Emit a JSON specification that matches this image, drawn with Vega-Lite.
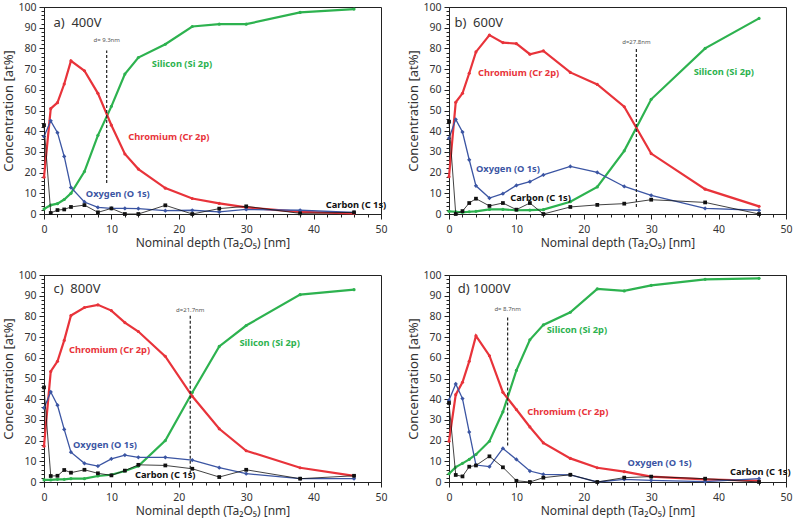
{
  "$schema": "https://vega.github.io/schema/vega-lite/v6.json",
  "background": "white",
  "padding": {"left": 2, "top": 1, "right": 0, "bottom": 4},
  "datasets": {"all": [
    {"kind":"s","panel":"a","d":0,"Si":2.4,"Cr":17.8,"O":37.4,"C":42.9},
    {"kind":"s","panel":"a","d":1,"Si":4.3,"Cr":50.9,"O":45,"C":0.5},
    {"kind":"s","panel":"a","d":2,"Si":5,"Cr":53.8,"O":39.3,"C":1.9},
    {"kind":"s","panel":"a","d":3,"Si":7,"Cr":62.8,"O":27.8,"C":2.2},
    {"kind":"s","panel":"a","d":4,"Si":10,"Cr":74,"O":12.8,"C":3.4},
    {"kind":"s","panel":"a","d":6,"Si":20.5,"Cr":69.2,"O":5.8,"C":4.3},
    {"kind":"s","panel":"a","d":8,"Si":38,"Cr":58.3,"O":3.2,"C":0.8},
    {"kind":"s","panel":"a","d":10,"Si":52,"Cr":42.9,"O":2.7,"C":2.7},
    {"kind":"s","panel":"a","d":12,"Si":67.6,"Cr":29,"O":2.7,"C":0},
    {"kind":"s","panel":"a","d":14,"Si":75.6,"Cr":21.7,"O":2.6,"C":0},
    {"kind":"s","panel":"a","d":18,"Si":82,"Cr":12.5,"O":1.6,"C":4.2},
    {"kind":"s","panel":"a","d":22,"Si":90.6,"Cr":7.5,"O":1.8,"C":0},
    {"kind":"s","panel":"a","d":26,"Si":91.7,"Cr":5.1,"O":1,"C":2.6},
    {"kind":"s","panel":"a","d":30,"Si":91.7,"Cr":3.2,"O":2.2,"C":3.7},
    {"kind":"s","panel":"a","d":38,"Si":97.4,"Cr":1,"O":1.8,"C":0.3},
    {"kind":"s","panel":"a","d":46,"Si":99,"Cr":0.3,"O":0.8,"C":0.8},

    {"kind":"s","panel":"b","d":0,"Si":1.3,"Cr":18,"O":36.6,"C":44.6},
    {"kind":"s","panel":"b","d":1,"Si":1.1,"Cr":54,"O":45.7,"C":0},
    {"kind":"s","panel":"b","d":2,"Si":0.8,"Cr":58.3,"O":39.6,"C":1.4},
    {"kind":"s","panel":"b","d":3,"Si":1.1,"Cr":68,"O":26.2,"C":5.3},
    {"kind":"s","panel":"b","d":4,"Si":1.3,"Cr":78.3,"O":13.6,"C":7.4},
    {"kind":"s","panel":"b","d":6,"Si":2.2,"Cr":86.4,"O":7.7,"C":3.9},
    {"kind":"s","panel":"b","d":8,"Si":2.2,"Cr":82.8,"O":9.8,"C":5.3},
    {"kind":"s","panel":"b","d":10,"Si":1.8,"Cr":82.3,"O":13.8,"C":2.1},
    {"kind":"s","panel":"b","d":12,"Si":1.9,"Cr":77.2,"O":15.6,"C":5.3},
    {"kind":"s","panel":"b","d":14,"Si":2.1,"Cr":78.8,"O":18.9,"C":0},
    {"kind":"s","panel":"b","d":18,"Si":5.9,"Cr":68.4,"O":23,"C":3.4},
    {"kind":"s","panel":"b","d":22,"Si":13.1,"Cr":62.6,"O":20.1,"C":4.4},
    {"kind":"s","panel":"b","d":26,"Si":30.5,"Cr":51.8,"O":13.3,"C":5},
    {"kind":"s","panel":"b","d":30,"Si":55.4,"Cr":29.2,"O":9,"C":6.9},
    {"kind":"s","panel":"b","d":38,"Si":80,"Cr":12,"O":2.7,"C":5.6},
    {"kind":"s","panel":"b","d":46,"Si":94.5,"Cr":3.7,"O":1.8,"C":0},

    {"kind":"s","panel":"c","d":0,"Si":1,"Cr":17.3,"O":35.8,"C":45.7},
    {"kind":"s","panel":"c","d":1,"Si":1,"Cr":53.4,"O":43.5,"C":2.9},
    {"kind":"s","panel":"c","d":2,"Si":1.3,"Cr":58.3,"O":37.1,"C":3},
    {"kind":"s","panel":"c","d":3,"Si":1.3,"Cr":68.4,"O":25.4,"C":5.8},
    {"kind":"s","panel":"c","d":4,"Si":1.6,"Cr":80.4,"O":14.4,"C":4.5},
    {"kind":"s","panel":"c","d":6,"Si":1.6,"Cr":84.3,"O":9,"C":5.9},
    {"kind":"s","panel":"c","d":8,"Si":2.9,"Cr":85.6,"O":7.7,"C":4.2},
    {"kind":"s","panel":"c","d":10,"Si":3.5,"Cr":82.8,"O":11.2,"C":3.2},
    {"kind":"s","panel":"c","d":12,"Si":5.3,"Cr":77,"O":13,"C":5.5},
    {"kind":"s","panel":"c","d":14,"Si":7.7,"Cr":72.7,"O":11.9,"C":8.3},
    {"kind":"s","panel":"c","d":18,"Si":20,"Cr":60.7,"O":11.9,"C":8},
    {"kind":"s","panel":"c","d":22,"Si":43.2,"Cr":41.4,"O":10.6,"C":6.4},
    {"kind":"s","panel":"c","d":26,"Si":65.5,"Cr":25.7,"O":6.9,"C":2.4},
    {"kind":"s","panel":"c","d":30,"Si":75.6,"Cr":15.1,"O":4,"C":5.9},
    {"kind":"s","panel":"c","d":38,"Si":90.5,"Cr":6.9,"O":1.6,"C":1.6},
    {"kind":"s","panel":"c","d":46,"Si":92.9,"Cr":3,"O":1.6,"C":3},

    {"kind":"s","panel":"d","d":0,"Si":4,"Cr":19.7,"O":39.5,"C":38.2},
    {"kind":"s","panel":"d","d":1,"Si":7.2,"Cr":42.2,"O":47.4,"C":3.4},
    {"kind":"s","panel":"d","d":2,"Si":9,"Cr":48.2,"O":40.3,"C":2.7},
    {"kind":"s","panel":"d","d":3,"Si":10.9,"Cr":58.3,"O":24.1,"C":7.4},
    {"kind":"s","panel":"d","d":4,"Si":13.3,"Cr":70.6,"O":8.2,"C":8},
    {"kind":"s","panel":"d","d":6,"Si":19.7,"Cr":61,"O":7.4,"C":12.4},
    {"kind":"s","panel":"d","d":8,"Si":33.9,"Cr":43.3,"O":16.2,"C":7.1},
    {"kind":"s","panel":"d","d":10,"Si":53.9,"Cr":35,"O":10.9,"C":0.6},
    {"kind":"s","panel":"d","d":12,"Si":68.7,"Cr":26.6,"O":5.3,"C":0},
    {"kind":"s","panel":"d","d":14,"Si":75.9,"Cr":18.9,"O":3.7,"C":2.1},
    {"kind":"s","panel":"d","d":18,"Si":82,"Cr":11.4,"O":3.4,"C":3.5},
    {"kind":"s","panel":"d","d":22,"Si":93.3,"Cr":6.9,"O":0,"C":0},
    {"kind":"s","panel":"d","d":26,"Si":92.3,"Cr":5,"O":1.3,"C":2.1},
    {"kind":"s","panel":"d","d":30,"Si":95,"Cr":2.6,"O":0.8,"C":2.6},
    {"kind":"s","panel":"d","d":38,"Si":97.9,"Cr":1.3,"O":0.2,"C":1.6},
    {"kind":"s","panel":"d","d":46,"Si":98.4,"Cr":0.6,"O":1.6,"C":0},

    {"kind":"l","panel":"a","x":16,"y":72.4,"t":"Silicon (Si 2p)","el":"Si"},
    {"kind":"l","panel":"a","x":12.5,"y":37,"t":"Chromium (Cr 2p)","el":"Cr"},
    {"kind":"l","panel":"a","x":6.2,"y":9.7,"t":"Oxygen (O 1s)","el":"O"},
    {"kind":"l","panel":"a","x":41.8,"y":4.5,"t":"Carbon (C 1s)","el":"C"},
    {"kind":"l","panel":"b","x":36.3,"y":68.8,"t":"Silicon (Si 2p)","el":"Si"},
    {"kind":"l","panel":"b","x":4.3,"y":68,"t":"Chromium (Cr 2p)","el":"Cr"},
    {"kind":"l","panel":"b","x":4.0,"y":21.7,"t":"Oxygen (O 1s)","el":"O"},
    {"kind":"l","panel":"b","x":9.1,"y":7.6,"t":"Carbon (C 1s)","el":"C"},
    {"kind":"l","panel":"c","x":29,"y":67.1,"t":"Silicon (Si 2p)","el":"Si"},
    {"kind":"l","panel":"c","x":3.7,"y":63.9,"t":"Chromium (Cr 2p)","el":"Cr"},
    {"kind":"l","panel":"c","x":4.3,"y":17.7,"t":"Oxygen (O 1s)","el":"O"},
    {"kind":"l","panel":"c","x":13.5,"y":3.2,"t":"Carbon (C 1s)","el":"C"},
    {"kind":"l","panel":"d","x":14.5,"y":73.2,"t":"Silicon (Si 2p)","el":"Si"},
    {"kind":"l","panel":"d","x":11.6,"y":33.9,"t":"Chromium (Cr 2p)","el":"Cr"},
    {"kind":"l","panel":"d","x":26.5,"y":9.3,"t":"Oxygen (O 1s)","el":"O"},
    {"kind":"l","panel":"d","x":41.7,"y":4.8,"t":"Carbon (C 1s)","el":"C"},

    {"kind":"h","panel":"a","x":1.4,"y":92.4,"t":"a)\u00a0 400V"},
    {"kind":"h","panel":"b","x":0.8,"y":92.4,"t":"b)\u00a0 600V"},
    {"kind":"h","panel":"c","x":1.4,"y":93.1,"t":"c)\u00a0 800V"},
    {"kind":"h","panel":"d","x":1.3,"y":93.1,"t":"d) 1000V"},

    {"kind":"r","panel":"a","x":9.3,"y1":15,"y2":79,"ly":84,"t":"d= 9.3nm"},
    {"kind":"r","panel":"b","x":27.8,"y1":3.4,"y2":80,"ly":83,"t":"d=27.8nm"},
    {"kind":"r","panel":"c","x":21.7,"y1":4,"y2":80.4,"ly":83,"t":"d=21.7nm"},
    {"kind":"r","panel":"d","x":8.7,"y1":17.6,"y2":80,"ly":83.6,"t":"d= 8.7nm"}
  ]},
  "columns": 2,
  "spacing": {"row": 61, "column": 68},
  "bounds": "flush",
  "concat": [
    {
      "width": 337, "height": 207,
      "data": {"name": "all"},
      "transform": [{"filter": "datum.panel === 'a'"}],
      "resolve": {"axis": {"x": "independent", "y": "independent"}},
      "layer": [
        {"transform": [{"filter": "datum.kind === 's'"}],
         "mark": {"type": "line", "color": "#2db24f", "strokeWidth": 2.2, "point": {"filled": true, "size": 10, "color": "#2db24f"}},
         "encoding": {
           "x": {"field": "d", "type": "quantitative", "scale": {"domain": [0, 50], "nice": false}, "axis": {"title": "Nominal depth (Ta₂O₅) [nm]", "values": [0,10,20,30,40,50], "tickSize": 5, "labelFlush": false}},
           "y": {"field": "Si", "type": "quantitative", "scale": {"domain": [0, 100], "nice": false}, "axis": {"title": "Concentration [at%]", "values": [0,10,20,30,40,50,60,70,80,90,100], "tickSize": 5, "labelFlush": false, "titleFontSize": 13}}}},
        {"transform": [{"filter": "datum.kind === 's'"}],
         "mark": {"type": "line", "color": "#e8333a", "strokeWidth": 2.2, "point": {"filled": true, "size": 10, "color": "#e8333a"}},
         "encoding": {
           "x": {"field": "d", "type": "quantitative", "axis": {"title": null, "orient": "bottom", "values": [0,2,4,6,8,10,12,14,16,18,20,22,24,26,28,30,32,34,36,38,40,42,44,46,48,50], "labels": false, "domain": false, "tickSize": 3}},
           "y": {"field": "Cr", "type": "quantitative", "axis": {"title": null, "orient": "left", "values": [0,2,4,6,8,10,12,14,16,18,20,22,24,26,28,30,32,34,36,38,40,42,44,46,48,50,52,54,56,58,60,62,64,66,68,70,72,74,76,78,80,82,84,86,88,90,92,94,96,98,100], "labels": false, "domain": false, "tickSize": 3}}}},
        {"transform": [{"filter": "datum.kind === 's'"}],
         "mark": {"type": "line", "color": "#3b55a3", "strokeWidth": 1.3, "point": {"filled": true, "size": 18, "shape": "diamond", "color": "#3b55a3"}},
         "encoding": {"x": {"field": "d", "type": "quantitative", "axis": null}, "y": {"field": "O", "type": "quantitative", "axis": null}}},
        {"transform": [{"filter": "datum.kind === 's'"}],
         "mark": {"type": "line", "color": "#111111", "strokeWidth": 0.8, "point": {"filled": true, "size": 14, "shape": "square", "color": "#111111"}},
         "encoding": {"x": {"field": "d", "type": "quantitative", "axis": null}, "y": {"field": "C", "type": "quantitative", "axis": null}}},
        {"transform": [{"filter": "datum.kind === 'r'"}],
         "mark": {"type": "rule", "strokeDash": [3, 2], "color": "#222222", "strokeWidth": 1.2},
         "encoding": {"x": {"field": "x", "type": "quantitative", "axis": null}, "y": {"field": "y1", "type": "quantitative", "axis": null}, "y2": {"field": "y2"}}},
        {"transform": [{"filter": "datum.kind === 'r'"}],
         "mark": {"type": "text", "fontSize": 6, "color": "#555555", "baseline": "middle", "align": "center"},
         "encoding": {"x": {"field": "x", "type": "quantitative", "axis": null}, "y": {"field": "ly", "type": "quantitative", "axis": null}, "text": {"field": "t"}}},
        {"transform": [{"filter": "datum.kind === 'l'"}],
         "mark": {"type": "text", "fontSize": 9.3, "fontWeight": "bold", "align": "left", "baseline": "middle"},
         "encoding": {"x": {"field": "x", "type": "quantitative", "axis": null}, "y": {"field": "y", "type": "quantitative", "axis": null}, "text": {"field": "t"},
           "color": {"field": "el", "type": "nominal", "scale": {"domain": ["Si", "Cr", "O", "C"], "range": ["#2db24f", "#e8333a", "#3b55a3", "#111111"]}, "legend": null}}},
        {"transform": [{"filter": "datum.kind === 'h'"}],
         "mark": {"type": "text", "fontSize": 13, "color": "#333333", "align": "left", "baseline": "middle"},
         "encoding": {"x": {"field": "x", "type": "quantitative", "axis": null}, "y": {"field": "y", "type": "quantitative", "axis": null}, "text": {"field": "t"}}}
      ]
    },
    {
      "width": 337, "height": 207,
      "data": {"name": "all"},
      "transform": [{"filter": "datum.panel === 'b'"}],
      "resolve": {"axis": {"x": "independent", "y": "independent"}},
      "layer": [
        {"transform": [{"filter": "datum.kind === 's'"}],
         "mark": {"type": "line", "color": "#2db24f", "strokeWidth": 2.2, "point": {"filled": true, "size": 10, "color": "#2db24f"}},
         "encoding": {
           "x": {"field": "d", "type": "quantitative", "scale": {"domain": [0, 50], "nice": false}, "axis": {"title": "Nominal depth (Ta₂O₅) [nm]", "values": [0,10,20,30,40,50], "tickSize": 5, "labelFlush": false}},
           "y": {"field": "Si", "type": "quantitative", "scale": {"domain": [0, 100], "nice": false}, "axis": {"title": "Concentration [at%]", "values": [0,10,20,30,40,50,60,70,80,90,100], "tickSize": 5, "labelFlush": false, "titleFontSize": 13}}}},
        {"transform": [{"filter": "datum.kind === 's'"}],
         "mark": {"type": "line", "color": "#e8333a", "strokeWidth": 2.2, "point": {"filled": true, "size": 10, "color": "#e8333a"}},
         "encoding": {
           "x": {"field": "d", "type": "quantitative", "axis": {"title": null, "orient": "bottom", "values": [0,2,4,6,8,10,12,14,16,18,20,22,24,26,28,30,32,34,36,38,40,42,44,46,48,50], "labels": false, "domain": false, "tickSize": 3}},
           "y": {"field": "Cr", "type": "quantitative", "axis": {"title": null, "orient": "left", "values": [0,2,4,6,8,10,12,14,16,18,20,22,24,26,28,30,32,34,36,38,40,42,44,46,48,50,52,54,56,58,60,62,64,66,68,70,72,74,76,78,80,82,84,86,88,90,92,94,96,98,100], "labels": false, "domain": false, "tickSize": 3}}}},
        {"transform": [{"filter": "datum.kind === 's'"}],
         "mark": {"type": "line", "color": "#3b55a3", "strokeWidth": 1.3, "point": {"filled": true, "size": 18, "shape": "diamond", "color": "#3b55a3"}},
         "encoding": {"x": {"field": "d", "type": "quantitative", "axis": null}, "y": {"field": "O", "type": "quantitative", "axis": null}}},
        {"transform": [{"filter": "datum.kind === 's'"}],
         "mark": {"type": "line", "color": "#111111", "strokeWidth": 0.8, "point": {"filled": true, "size": 14, "shape": "square", "color": "#111111"}},
         "encoding": {"x": {"field": "d", "type": "quantitative", "axis": null}, "y": {"field": "C", "type": "quantitative", "axis": null}}},
        {"transform": [{"filter": "datum.kind === 'r'"}],
         "mark": {"type": "rule", "strokeDash": [3, 2], "color": "#222222", "strokeWidth": 1.2},
         "encoding": {"x": {"field": "x", "type": "quantitative", "axis": null}, "y": {"field": "y1", "type": "quantitative", "axis": null}, "y2": {"field": "y2"}}},
        {"transform": [{"filter": "datum.kind === 'r'"}],
         "mark": {"type": "text", "fontSize": 6, "color": "#555555", "baseline": "middle", "align": "center"},
         "encoding": {"x": {"field": "x", "type": "quantitative", "axis": null}, "y": {"field": "ly", "type": "quantitative", "axis": null}, "text": {"field": "t"}}},
        {"transform": [{"filter": "datum.kind === 'l'"}],
         "mark": {"type": "text", "fontSize": 9.3, "fontWeight": "bold", "align": "left", "baseline": "middle"},
         "encoding": {"x": {"field": "x", "type": "quantitative", "axis": null}, "y": {"field": "y", "type": "quantitative", "axis": null}, "text": {"field": "t"},
           "color": {"field": "el", "type": "nominal", "scale": {"domain": ["Si", "Cr", "O", "C"], "range": ["#2db24f", "#e8333a", "#3b55a3", "#111111"]}, "legend": null}}},
        {"transform": [{"filter": "datum.kind === 'h'"}],
         "mark": {"type": "text", "fontSize": 13, "color": "#333333", "align": "left", "baseline": "middle"},
         "encoding": {"x": {"field": "x", "type": "quantitative", "axis": null}, "y": {"field": "y", "type": "quantitative", "axis": null}, "text": {"field": "t"}}}
      ]
    },
    {
      "width": 337, "height": 207,
      "data": {"name": "all"},
      "transform": [{"filter": "datum.panel === 'c'"}],
      "resolve": {"axis": {"x": "independent", "y": "independent"}},
      "layer": [
        {"transform": [{"filter": "datum.kind === 's'"}],
         "mark": {"type": "line", "color": "#2db24f", "strokeWidth": 2.2, "point": {"filled": true, "size": 10, "color": "#2db24f"}},
         "encoding": {
           "x": {"field": "d", "type": "quantitative", "scale": {"domain": [0, 50], "nice": false}, "axis": {"title": "Nominal depth (Ta₂O₅) [nm]", "values": [0,10,20,30,40,50], "tickSize": 5, "labelFlush": false}},
           "y": {"field": "Si", "type": "quantitative", "scale": {"domain": [0, 100], "nice": false}, "axis": {"title": "Concentration [at%]", "values": [0,10,20,30,40,50,60,70,80,90,100], "tickSize": 5, "labelFlush": false, "titleFontSize": 13}}}},
        {"transform": [{"filter": "datum.kind === 's'"}],
         "mark": {"type": "line", "color": "#e8333a", "strokeWidth": 2.2, "point": {"filled": true, "size": 10, "color": "#e8333a"}},
         "encoding": {
           "x": {"field": "d", "type": "quantitative", "axis": {"title": null, "orient": "bottom", "values": [0,2,4,6,8,10,12,14,16,18,20,22,24,26,28,30,32,34,36,38,40,42,44,46,48,50], "labels": false, "domain": false, "tickSize": 3}},
           "y": {"field": "Cr", "type": "quantitative", "axis": {"title": null, "orient": "left", "values": [0,2,4,6,8,10,12,14,16,18,20,22,24,26,28,30,32,34,36,38,40,42,44,46,48,50,52,54,56,58,60,62,64,66,68,70,72,74,76,78,80,82,84,86,88,90,92,94,96,98,100], "labels": false, "domain": false, "tickSize": 3}}}},
        {"transform": [{"filter": "datum.kind === 's'"}],
         "mark": {"type": "line", "color": "#3b55a3", "strokeWidth": 1.3, "point": {"filled": true, "size": 18, "shape": "diamond", "color": "#3b55a3"}},
         "encoding": {"x": {"field": "d", "type": "quantitative", "axis": null}, "y": {"field": "O", "type": "quantitative", "axis": null}}},
        {"transform": [{"filter": "datum.kind === 's'"}],
         "mark": {"type": "line", "color": "#111111", "strokeWidth": 0.8, "point": {"filled": true, "size": 14, "shape": "square", "color": "#111111"}},
         "encoding": {"x": {"field": "d", "type": "quantitative", "axis": null}, "y": {"field": "C", "type": "quantitative", "axis": null}}},
        {"transform": [{"filter": "datum.kind === 'r'"}],
         "mark": {"type": "rule", "strokeDash": [3, 2], "color": "#222222", "strokeWidth": 1.2},
         "encoding": {"x": {"field": "x", "type": "quantitative", "axis": null}, "y": {"field": "y1", "type": "quantitative", "axis": null}, "y2": {"field": "y2"}}},
        {"transform": [{"filter": "datum.kind === 'r'"}],
         "mark": {"type": "text", "fontSize": 6, "color": "#555555", "baseline": "middle", "align": "center"},
         "encoding": {"x": {"field": "x", "type": "quantitative", "axis": null}, "y": {"field": "ly", "type": "quantitative", "axis": null}, "text": {"field": "t"}}},
        {"transform": [{"filter": "datum.kind === 'l'"}],
         "mark": {"type": "text", "fontSize": 9.3, "fontWeight": "bold", "align": "left", "baseline": "middle"},
         "encoding": {"x": {"field": "x", "type": "quantitative", "axis": null}, "y": {"field": "y", "type": "quantitative", "axis": null}, "text": {"field": "t"},
           "color": {"field": "el", "type": "nominal", "scale": {"domain": ["Si", "Cr", "O", "C"], "range": ["#2db24f", "#e8333a", "#3b55a3", "#111111"]}, "legend": null}}},
        {"transform": [{"filter": "datum.kind === 'h'"}],
         "mark": {"type": "text", "fontSize": 13, "color": "#333333", "align": "left", "baseline": "middle"},
         "encoding": {"x": {"field": "x", "type": "quantitative", "axis": null}, "y": {"field": "y", "type": "quantitative", "axis": null}, "text": {"field": "t"}}}
      ]
    },
    {
      "width": 337, "height": 207,
      "data": {"name": "all"},
      "transform": [{"filter": "datum.panel === 'd'"}],
      "resolve": {"axis": {"x": "independent", "y": "independent"}},
      "layer": [
        {"transform": [{"filter": "datum.kind === 's'"}],
         "mark": {"type": "line", "color": "#2db24f", "strokeWidth": 2.2, "point": {"filled": true, "size": 10, "color": "#2db24f"}},
         "encoding": {
           "x": {"field": "d", "type": "quantitative", "scale": {"domain": [0, 50], "nice": false}, "axis": {"title": "Nominal depth (Ta₂O₅) [nm]", "values": [0,10,20,30,40,50], "tickSize": 5, "labelFlush": false}},
           "y": {"field": "Si", "type": "quantitative", "scale": {"domain": [0, 100], "nice": false}, "axis": {"title": "Concentration [at%]", "values": [0,10,20,30,40,50,60,70,80,90,100], "tickSize": 5, "labelFlush": false, "titleFontSize": 13}}}},
        {"transform": [{"filter": "datum.kind === 's'"}],
         "mark": {"type": "line", "color": "#e8333a", "strokeWidth": 2.2, "point": {"filled": true, "size": 10, "color": "#e8333a"}},
         "encoding": {
           "x": {"field": "d", "type": "quantitative", "axis": {"title": null, "orient": "bottom", "values": [0,2,4,6,8,10,12,14,16,18,20,22,24,26,28,30,32,34,36,38,40,42,44,46,48,50], "labels": false, "domain": false, "tickSize": 3}},
           "y": {"field": "Cr", "type": "quantitative", "axis": {"title": null, "orient": "left", "values": [0,2,4,6,8,10,12,14,16,18,20,22,24,26,28,30,32,34,36,38,40,42,44,46,48,50,52,54,56,58,60,62,64,66,68,70,72,74,76,78,80,82,84,86,88,90,92,94,96,98,100], "labels": false, "domain": false, "tickSize": 3}}}},
        {"transform": [{"filter": "datum.kind === 's'"}],
         "mark": {"type": "line", "color": "#3b55a3", "strokeWidth": 1.3, "point": {"filled": true, "size": 18, "shape": "diamond", "color": "#3b55a3"}},
         "encoding": {"x": {"field": "d", "type": "quantitative", "axis": null}, "y": {"field": "O", "type": "quantitative", "axis": null}}},
        {"transform": [{"filter": "datum.kind === 's'"}],
         "mark": {"type": "line", "color": "#111111", "strokeWidth": 0.8, "point": {"filled": true, "size": 14, "shape": "square", "color": "#111111"}},
         "encoding": {"x": {"field": "d", "type": "quantitative", "axis": null}, "y": {"field": "C", "type": "quantitative", "axis": null}}},
        {"transform": [{"filter": "datum.kind === 'r'"}],
         "mark": {"type": "rule", "strokeDash": [3, 2], "color": "#222222", "strokeWidth": 1.2},
         "encoding": {"x": {"field": "x", "type": "quantitative", "axis": null}, "y": {"field": "y1", "type": "quantitative", "axis": null}, "y2": {"field": "y2"}}},
        {"transform": [{"filter": "datum.kind === 'r'"}],
         "mark": {"type": "text", "fontSize": 6, "color": "#555555", "baseline": "middle", "align": "center"},
         "encoding": {"x": {"field": "x", "type": "quantitative", "axis": null}, "y": {"field": "ly", "type": "quantitative", "axis": null}, "text": {"field": "t"}}},
        {"transform": [{"filter": "datum.kind === 'l'"}],
         "mark": {"type": "text", "fontSize": 9.3, "fontWeight": "bold", "align": "left", "baseline": "middle"},
         "encoding": {"x": {"field": "x", "type": "quantitative", "axis": null}, "y": {"field": "y", "type": "quantitative", "axis": null}, "text": {"field": "t"},
           "color": {"field": "el", "type": "nominal", "scale": {"domain": ["Si", "Cr", "O", "C"], "range": ["#2db24f", "#e8333a", "#3b55a3", "#111111"]}, "legend": null}}},
        {"transform": [{"filter": "datum.kind === 'h'"}],
         "mark": {"type": "text", "fontSize": 13, "color": "#333333", "align": "left", "baseline": "middle"},
         "encoding": {"x": {"field": "x", "type": "quantitative", "axis": null}, "y": {"field": "y", "type": "quantitative", "axis": null}, "text": {"field": "t"}}}
      ]
    }
  ],
  "config": {
    "font": "Noto Sans",
    "view": {"stroke": "#222222", "strokeWidth": 1},
    "axis": {"grid": false, "domainColor": "#222222", "tickColor": "#222222", "labelColor": "#333333", "labelFontSize": 10.5, "titleColor": "#333333", "titleFontSize": 12, "titleFontWeight": "normal", "labelFont": "Noto Sans", "titleFont": "Noto Sans"},
    "axisX": {"labelPadding": 5, "titlePadding": 3},
    "axisY": {"labelPadding": 3, "titlePadding": 2}
  }
}
